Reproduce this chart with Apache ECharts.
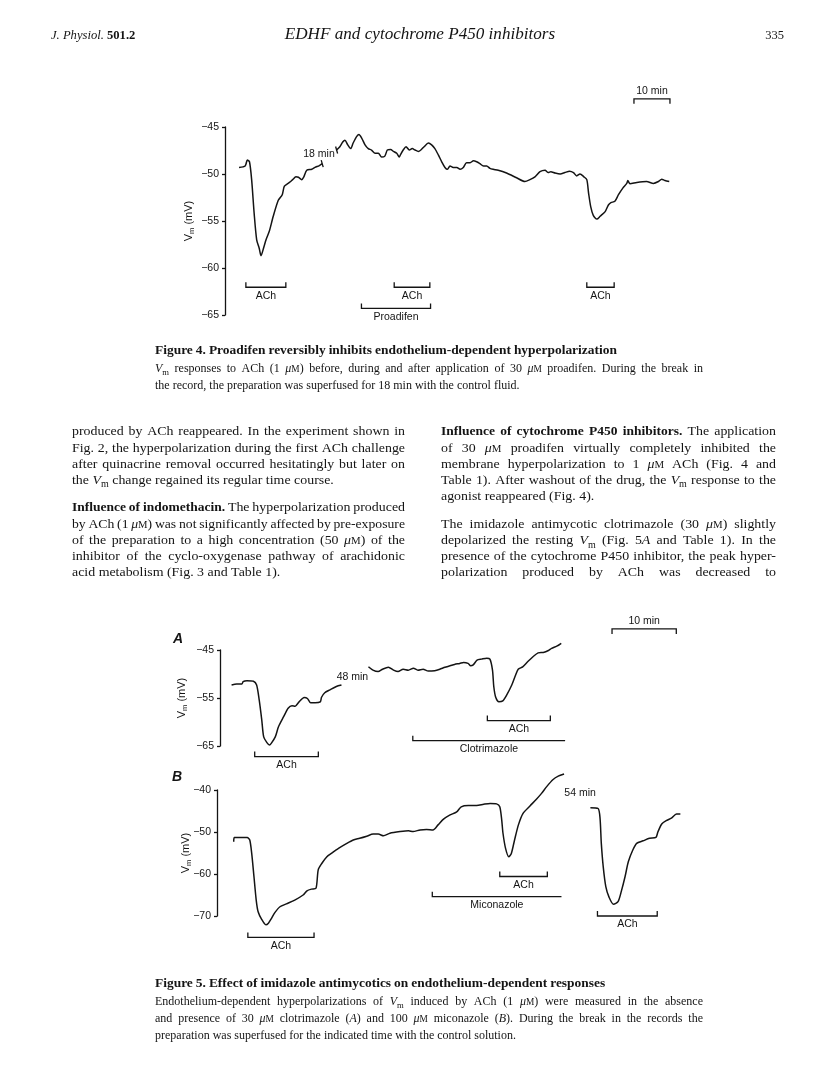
<!DOCTYPE html>
<html><head><meta charset="utf-8">
<script src="https://cdn.jsdelivr.net/npm/echarts@6/dist/echarts.min.js"></script>
<style>html,body{margin:0;padding:0;background:#fff}#c{width:816px;height:1088px}</style>
</head><body><div id="c"></div>
<script>
// ---------------- DATA (time in min, Vm in mV) ----------------
const fig4Seg1 = [[3.9,-49.3],[5.6,-49.15],[6.2,-48.5],[6.8,-48.7],[7.4,-50.6],[8.1,-54.2],[8.8,-57.0],[9.5,-57.9],[10.0,-58.7],[10.7,-57.9],[11.4,-57.0],[12.3,-56.1],[13.4,-54.5],[14.8,-52.8],[15.9,-52.2],[16.5,-51.3],[17.9,-50.9],[18.8,-50.6],[19.7,-50.3],[20.4,-50.35],[21.3,-50.6],[21.9,-50.3],[22.7,-49.6],[24.1,-49.5],[25.0,-49.3],[26.2,-49.1],[27.0,-48.9]];
const fig4Seg2 = [[31.0,-47.45],[31.9,-47.1],[32.7,-46.6],[33.3,-46.4],[34.1,-46.9],[34.9,-47.3],[35.6,-46.7],[36.6,-46.0],[37.2,-45.8],[38.0,-46.2],[38.9,-46.9],[39.8,-47.3],[40.7,-47.45],[41.7,-47.8],[42.6,-47.8],[43.5,-48.2],[44.4,-48.1],[45.1,-47.45],[46.0,-47.4],[46.8,-47.6],[47.7,-47.8],[48.4,-48.2],[48.8,-47.9],[49.5,-47.45],[50.3,-47.1],[51.2,-47.45],[52.0,-47.3],[52.8,-47.45],[53.7,-47.6],[54.4,-47.45],[55.3,-47.1],[56.5,-46.7],[57.4,-46.9],[58.3,-47.3],[59.3,-48.0],[60.2,-48.7],[61.1,-49.3],[61.8,-49.5],[62.5,-49.15],[63.4,-49.3],[64.4,-49.3],[65.3,-49.5],[66.2,-49.3],[67.1,-48.8],[68.1,-48.8],[69.0,-48.6],[69.9,-48.7],[70.8,-48.9],[71.8,-49.15],[72.7,-49.15],[73.6,-49.4],[74.5,-49.5],[75.9,-49.6],[78.2,-49.9],[81.0,-50.4],[83.3,-50.8],[84.7,-50.6],[86.1,-50.3],[87.5,-49.75],[88.9,-49.6],[89.8,-49.85],[90.5,-49.75],[91.7,-49.9],[93.1,-50.0],[94.4,-49.85],[95.7,-49.7],[96.8,-49.85],[97.7,-50.2],[98.6,-50.0],[99.7,-50.3],[100.5,-50.6],[101.0,-52.05],[101.6,-53.5],[102.3,-54.4],[103.3,-54.8],[104.2,-54.5],[105.6,-54.0],[106.5,-53.3],[107.2,-53.05],[108.3,-52.9],[109.3,-52.2],[110.5,-51.5],[111.6,-51.0],[111.9,-50.7],[112.5,-51.05],[114.4,-50.9],[117.1,-50.8],[119.0,-51.0],[120.4,-50.8],[121.3,-50.55],[122.2,-50.7],[123.4,-50.8]];
const fig4BracketLabels = ['ACh','ACh','ACh','Proadifen'];
const fig4BracketFrom  = [5.8, 47.0, 100.5, 37.9];
const fig4BracketTo    = [16.9, 56.9, 108.1, 57.1];
const fig4BracketLevel = [-62.05, -62.05, -62.05, -64.3];
const fig4ScaleBar = [113.6, 123.6, -42.0];
const fig4BreakLabel = [26.1, -47.85];
const fig4BreakText = '18 min';
const fig4BreakMarks = [[27.0,-48.9],[31.0,-47.45]];
const fig4Ticks = [-65,-60,-55,-50,-45];

const fig5ASeg1 = [[1.8,-52.3],[2.6,-52.1],[3.4,-52.1],[3.6,-51.6],[4.2,-51.4],[5.2,-51.5],[5.7,-52.3],[6.1,-55.4],[6.5,-59.6],[6.8,-63.1],[7.3,-64.3],[7.7,-64.8],[8.0,-64.4],[8.6,-63.1],[9.1,-61.0],[9.9,-58.9],[10.6,-57.15],[11.2,-56.6],[11.7,-56.7],[12.3,-55.8],[13.1,-54.9],[13.6,-55.1],[14.1,-56.0],[14.8,-56.0],[15.6,-55.8],[15.8,-54.85],[16.3,-53.9],[17.1,-53.3],[18.1,-52.6],[18.9,-52.3]];
const fig5ASeg2 = [[23.1,-48.5],[23.8,-49.2],[24.6,-49.5],[25.3,-49.0],[26.2,-48.6],[27.0,-49.2],[27.7,-49.5],[28.5,-49.0],[29.3,-49.2],[30.1,-48.8],[30.8,-49.2],[31.6,-49.0],[32.4,-49.4],[33.4,-49.3],[34.2,-49.0],[35.0,-48.6],[35.8,-48.3],[36.5,-48.0],[37.3,-47.8],[37.9,-47.6],[38.6,-47.8],[39.0,-48.3],[39.4,-48.1],[40.0,-47.1],[40.7,-46.9],[41.5,-46.7],[42.0,-46.9],[42.4,-49.2],[42.6,-52.6],[42.9,-54.85],[43.4,-55.8],[44.0,-55.6],[44.6,-54.4],[45.4,-52.3],[46.0,-50.2],[46.4,-49.0],[47.1,-48.5],[47.9,-47.4],[48.7,-46.4],[49.5,-45.6],[50.3,-45.5],[51.1,-45.1],[51.6,-44.65],[52.4,-44.2],[53.1,-43.6]];
const fig5ABracketLabels = ['ACh','ACh','Clotrimazole'];
const fig5ABracketFrom  = [5.4, 41.6, 30.0];
const fig5ABracketTo    = [15.3, 51.4, 53.7];
const fig5ABracketLevel = [-67.2, -59.7, -63.9];
const fig5AScaleBar = [61.0, 71.0, -40.6];
const fig5ABreakLabel = [20.6, -50.6];
const fig5ABreakText = '48 min';
const fig5ATicks = [-65,-55,-45];

const fig5BSeg1 = [[2.6,-52.3],[2.7,-51.3],[3.6,-51.3],[4.7,-51.3],[5.1,-51.9],[5.4,-55.1],[5.75,-60.6],[6.1,-66.2],[6.4,-69.0],[6.95,-70.8],[7.6,-72.1],[8.0,-71.7],[8.5,-70.5],[9.0,-69.2],[9.8,-67.8],[10.8,-67.1],[12.1,-66.2],[13.4,-65.0],[14.0,-64.0],[14.7,-63.6],[15.4,-63.4],[15.75,-59.0],[16.3,-57.5],[17.1,-55.9],[17.8,-55.1],[18.9,-53.9],[20.2,-52.7],[21.2,-51.9],[22.2,-51.5],[23.3,-51.0],[24.3,-50.5],[25.1,-50.5],[25.9,-50.9],[26.9,-50.3],[28.5,-49.9],[29.8,-49.7],[30.5,-49.9],[31.6,-49.5],[32.6,-49.4],[33.6,-49.5],[34.4,-48.3],[35.2,-47.0],[36.2,-46.0],[37.3,-45.2],[38.0,-44.0],[39.1,-43.7],[40.4,-43.7],[41.5,-43.4],[42.5,-43.2],[43.5,-43.3],[44.0,-44.0],[44.3,-47.1],[44.5,-50.3],[44.9,-53.9],[45.4,-55.9],[45.8,-55.1],[46.3,-51.9],[46.9,-48.3],[47.6,-45.6],[48.7,-43.8],[49.7,-42.2],[50.5,-40.8],[51.3,-39.2],[52.3,-37.5],[53.1,-36.7],[54.0,-36.2]];
const fig5BSeg2 = [[58.1,-44.2],[59.3,-44.4],[59.6,-46.7],[59.8,-52.7],[60.1,-58.3],[60.5,-63.0],[61.0,-65.5],[61.7,-67.2],[62.4,-66.6],[62.9,-64.2],[63.5,-60.6],[64.0,-57.1],[64.7,-54.3],[65.3,-52.7],[66.3,-52.1],[67.3,-51.5],[68.3,-51.3],[68.6,-50.0],[69.2,-48.1],[69.9,-47.3],[70.7,-46.7],[71.5,-45.7],[72.1,-45.7]];
const fig5BBracketLabels = ['ACh','ACh','ACh','Miconazole'];
const fig5BBracketFrom  = [4.8, 44.0, 59.2, 33.5];
const fig5BBracketTo    = [15.1, 51.4, 68.5, 53.6];
const fig5BBracketLevel = [-75.1, -60.6, -70.0, -65.4];
const fig5BBreakLabel = [56.5, -40.8];
const fig5BBreakText = '54 min';
const fig5BTicks = [-70,-60,-50,-40];

// ---------------- TEXT ----------------
const headerLeft = '{i:J. Physiol.} {b:501.2}';
const headerTitle = '{i:EDHF and cytochrome P450 inhibitors}';
const headerPage = '335';
const fig4Caption = [
  '{b:Figure 4. Proadifen reversibly inhibits endothelium-dependent hyperpolarization}',
  '{i:V}{sub:m} responses to ACh (1 {um}) before, during and after application of 30 {um} proadifen. During the break in',
  'the record, the preparation was superfused for 18 min with the control fluid.'
];
const leftColumn = [
  'produced by ACh reappeared. In the experiment shown in',
  'Fig. 2, the hyperpolarization during the first ACh challenge',
  'after quinacrine removal occurred hesitatingly but later on',
  'the {i:V}{sub:m} change regained its regular time course.',
  '{b:Influence of indomethacin.} The hyperpolarization produced',
  'by ACh (1 {um}) was not significantly affected by pre-exposure',
  'of the preparation to a high concentration (50 {um}) of the',
  'inhibitor of the cyclo-oxygenase pathway of arachidonic',
  'acid metabolism (Fig. 3 and Table 1).'
];
const rightColumn = [
  '{b:Influence of cytochrome P450 inhibitors.} The application',
  'of 30 {um} proadifen virtually completely inhibited the',
  'membrane hyperpolarization to 1 {um} ACh (Fig. 4 and',
  'Table 1). After washout of the drug, the {i:V}{sub:m} response to the',
  'agonist reappeared (Fig. 4).',
  'The imidazole antimycotic clotrimazole (30 {um}) slightly',
  'depolarized the resting {i:V}{sub:m} (Fig. 5{i:A} and Table 1). In the',
  'presence of the cytochrome P450 inhibitor, the peak hyper-',
  'polarization produced by ACh was decreased to'
];
const fig5Caption = [
  '{b:Figure 5. Effect of imidazole antimycotics on endothelium-dependent responses}',
  'Endothelium-dependent hyperpolarizations of {i:V}{sub:m} induced by ACh (1 {um}) were measured in the absence',
  'and presence of 30 {um} clotrimazole ({i:A}) and 100 {um} miconazole ({i:B}). During the break in the records the',
  'preparation was superfused for the indicated time with the control solution.'
];

// ---------------- TEXT LAYOUT ----------------
const INK = '#141414';
const SERIF = '"Liberation Serif", "Times New Roman", serif';
const SANS = '"Liberation Sans", Arial, sans-serif';
const mctx = document.createElement('canvas').getContext('2d');
function parseLine(str){
  const re = /\{um\}|\{(\w+):([^}]*)\}/g;
  const chunks = []; let last = 0, m;
  while ((m = re.exec(str))) {
    if (m.index > last) chunks.push({t: str.slice(last, m.index), s: 'r'});
    if (m[0] === '{um}') { chunks.push({t: '\u03bc', s: 'i'}); chunks.push({t: 'M', s: 'sc'}); }
    else chunks.push({t: m[2], s: m[1]});
    last = re.lastIndex;
  }
  if (last < str.length) chunks.push({t: str.slice(last), s: 'r'});
  const words = []; let cur = [];
  chunks.forEach(c => {
    c.t.split(' ').forEach((p, i) => {
      if (i > 0) { if (cur.length) words.push(cur); cur = []; }
      if (p) cur.push({t: p, s: c.s});
    });
  });
  if (cur.length) words.push(cur);
  return words;
}
function segFont(s, size, fam){
  let st = '', sz = size;
  if (s === 'b') st = 'bold ';
  else if (s === 'i') st = 'italic ';
  else if (s === 'sub') sz = size * 0.72;
  else if (s === 'sc') sz = size * 0.78;
  return {font: st + sz.toFixed(2) + 'px ' + fam, size: sz};
}
const textEls = [];
function layoutLine(str, x0, x1, yc, size, mode, stretch, boldStretch){
  const fam = SERIF;
  stretch = stretch || 1;
  boldStretch = boldStretch || stretch;
  const words = parseLine(str);
  mctx.font = size + 'px ' + fam;
  const space = mctx.measureText(' ').width * stretch;
  const wm = words.map(w => w.map(seg => {
    const f = segFont(seg.s, size, fam); mctx.font = f.font;
    const k = seg.s === 'b' ? boldStretch : stretch;
    return {t: seg.t, s: seg.s, f: f, k: k, w: mctx.measureText(seg.t).width * k};
  }));
  const wW = wm.map(w => w.reduce((a, b) => a + b.w, 0));
  const total = wW.reduce((a, b) => a + b, 0);
  const n = words.length;
  let gap = space, sx = 1;
  const avail = (x1 - x0);
  if (mode === 'justify' && n > 1) gap = (avail - total) / (n - 1);
  if (gap < space * 0.8) gap = space * 0.8;
  const natural = total + gap * (n - 1);
  if ((mode === 'justify' || mode === 'left') && natural > avail) sx = avail / natural;
  let start = x0;
  if (mode === 'center') start = x0 - natural / 2;
  if (mode === 'right') start = x0 - natural;
  const baseline = yc + 0.23 * size;
  let x = 0;
  wm.forEach((w, wi) => {
    w.forEach(seg => {
      let y = baseline - 0.34 * seg.f.size;
      if (seg.s === 'sub') y += 0.24 * size;
      textEls.push({type: 'text', silent: true, x: start + x * sx, y: y, scaleX: sx * seg.k,
        style: {text: seg.t, font: seg.f.font, fill: INK, align: 'left', verticalAlign: 'middle'}});
      x += seg.w;
    });
    if (wi < n - 1) x += gap;
  });
}
function block(lines, x0, x1, ys, size, modes, stretch, boldStretch){
  lines.forEach((l, i) => layoutLine(l, x0, x1, ys[i], size, modes[i], stretch, boldStretch));
}
// header
layoutLine(headerLeft, 51, 300, 37, 12, 'left', 1.05);
layoutLine(headerTitle, 420, 420, 37, 16, 'center', 1.07);
layoutLine(headerPage, 784, 784, 37, 12.5, 'right', 1.0);
// captions & columns
block(fig4Caption, 155, 703, [352, 370, 387], 12, ['left', 'justify', 'left'], 1.0, 1.12);
block(leftColumn, 72, 405, [433.3, 449.5, 465.6, 481.7, 509.3, 525.5, 541.7, 558, 574.3], 13.5,
  ['justify','justify','justify','left','justify','justify','justify','justify','left'], 1.03, 1.0);
block(rightColumn, 441, 776, [433.3, 449.5, 465.6, 481.7, 497.8, 526, 542.1, 558.2, 574.3], 13.5,
  ['justify','justify','justify','justify','left','justify','justify','justify','justify'], 1.03, 1.0);
block(fig5Caption, 155, 703, [985, 1003, 1020, 1037], 12, ['left', 'justify', 'justify', 'left'], 1.0, 1.12);
// panel letters
textEls.push({type:'text', silent:true, x:178, y:639, style:{text:'A', font:'italic bold 14px ' + SANS, fill:INK, align:'center', verticalAlign:'middle'}});
textEls.push({type:'text', silent:true, x:177, y:777, style:{text:'B', font:'italic bold 14px ' + SANS, fill:INK, align:'center', verticalAlign:'middle'}});

// ---------------- CHART ----------------
const LEFT_ONLY = ['Clotrimazole', 'Miconazole'];
const LABEL_FONT = '10.5px ' + SANS;
function traceSeries(ax, data){
  return {type:'line', xAxisIndex:ax, yAxisIndex:ax, data:data, showSymbol:false, symbol:'none', clip:false,
    smooth:0.25, lineStyle:{color:INK, width:1.5}, silent:true, z:3};
}
function bracketSeries(ax, labels, from, to, level){
  return {type:'custom', xAxisIndex:ax, yAxisIndex:ax, silent:true, clip:false,
    data: from.map((f, i) => [f, to[i], level[i]]), encode:{x:[0,1], y:2},
    renderItem: (params, api) => {
      const lab = labels[params.dataIndex];
      const a = api.coord([api.value(0), api.value(2)]);
      const b = api.coord([api.value(1), api.value(2)]);
      const h = 5;
      const pts = LEFT_ONLY.includes(lab) ? [[a[0], a[1]-h], a, b] : [[a[0], a[1]-h], a, b, [b[0], b[1]-h]];
      return {type:'group', children:[
        {type:'polyline', shape:{points:pts}, style:{stroke:INK, lineWidth:1.3, fill:null}},
        {type:'text', x:(a[0]+b[0])/2, y:a[1]+3, style:{text:lab, font:LABEL_FONT, fill:INK, align:'center', verticalAlign:'top'}}
      ]};
    }};
}
function scaleBarSeries(ax, bar){
  return {type:'custom', xAxisIndex:ax, yAxisIndex:ax, silent:true, clip:false,
    data:[bar], encode:{x:[0,1], y:2},
    renderItem: (params, api) => {
      const a = api.coord([api.value(0), api.value(2)]);
      const b = api.coord([api.value(1), api.value(2)]);
      return {type:'group', children:[
        {type:'polyline', shape:{points:[[a[0], a[1]+5], a, b, [b[0], b[1]+5]]}, style:{stroke:INK, lineWidth:1.3, fill:null}},
        {type:'text', x:(a[0]+b[0])/2, y:a[1]-2, style:{text:'10 min', font:LABEL_FONT, fill:INK, align:'center', verticalAlign:'bottom'}}
      ]};
    }};
}
function noteSeries(ax, pos, text){
  return {type:'custom', xAxisIndex:ax, yAxisIndex:ax, silent:true, clip:false,
    data:[pos], encode:{x:0, y:1},
    renderItem: (params, api) => {
      const p = api.coord([api.value(0), api.value(1)]);
      return {type:'text', x:p[0], y:p[1], style:{text:text, font:LABEL_FONT, fill:INK, align:'center', verticalAlign:'middle'}};
    }};
}
function breakMarkSeries(ax, pts){
  return {type:'custom', xAxisIndex:ax, yAxisIndex:ax, silent:true, clip:false,
    data:pts, encode:{x:0, y:1},
    renderItem: (params, api) => {
      const p = api.coord([api.value(0), api.value(1)]);
      return {type:'line', shape:{x1:p[0]-1, y1:p[1]-3.5, x2:p[0]+1, y2:p[1]+3.5}, style:{stroke:INK, lineWidth:1.3}};
    }};
}
const minus = v => (v < 0 ? '\u2212' : '') + Math.abs(v);
function yAx(grid, min, max, interval, ticks, gap){
  return {type:'value', gridIndex:grid, min:min, max:max, interval:interval,
    axisLine:{show:true, onZero:false, lineStyle:{color:INK, width:1.3}},
    axisTick:{show:true, length:3, customValues:ticks, lineStyle:{color:INK, width:1.3}},
    axisLabel:{customValues:ticks, formatter:minus, fontFamily:'Liberation Sans', fontSize:10.5, color:INK, margin:6},
    splitLine:{show:false},
    name:'{v|V}{s|m}{v| (mV)}', nameLocation:'middle', nameGap:gap, nameRotate:90, nameMoveOverlap:false,
    nameTextStyle:{fontFamily:'Liberation Sans', fontSize:11, color:INK,
      rich:{v:{fontFamily:'Liberation Sans', fontSize:11, color:INK, lineHeight:14},
            s:{fontFamily:'Liberation Sans', fontSize:7.5, color:INK, lineHeight:8, verticalAlign:'bottom'}}}
  };
}
const option = {
  animation:false,
  backgroundColor:'#ffffff',
  grid:[
    {left:225, top:127, width:450, height:188},
    {left:220, top:650, width:482, height:96},
    {left:217, top:790, width:482, height:126}
  ],
  xAxis:[
    {type:'value', gridIndex:0, min:0, max:125, show:false},
    {type:'value', gridIndex:1, min:0, max:75, show:false},
    {type:'value', gridIndex:2, min:0, max:75, show:false}
  ],
  yAxis:[
    yAx(0, -65, -45, 5, fig4Ticks, 29),
    yAx(1, -65, -45, 10, fig5ATicks, 31),
    yAx(2, -70, -40, 10, fig5BTicks, 24)
  ],
  series:[
    traceSeries(0, fig4Seg1), traceSeries(0, fig4Seg2),
    bracketSeries(0, fig4BracketLabels, fig4BracketFrom, fig4BracketTo, fig4BracketLevel),
    scaleBarSeries(0, fig4ScaleBar),
    noteSeries(0, fig4BreakLabel, fig4BreakText),
    breakMarkSeries(0, fig4BreakMarks),
    traceSeries(1, fig5ASeg1), traceSeries(1, fig5ASeg2),
    bracketSeries(1, fig5ABracketLabels, fig5ABracketFrom, fig5ABracketTo, fig5ABracketLevel),
    scaleBarSeries(1, fig5AScaleBar),
    noteSeries(1, fig5ABreakLabel, fig5ABreakText),
    traceSeries(2, fig5BSeg1), traceSeries(2, fig5BSeg2),
    bracketSeries(2, fig5BBracketLabels, fig5BBracketFrom, fig5BBracketTo, fig5BBracketLevel),
    noteSeries(2, fig5BBreakLabel, fig5BBreakText)
  ],
  graphic:{elements:textEls}
};
const chart = echarts.init(document.getElementById('c'), null, {renderer:'canvas', width:816, height:1088});
chart.setOption(option);
</script></body></html>
